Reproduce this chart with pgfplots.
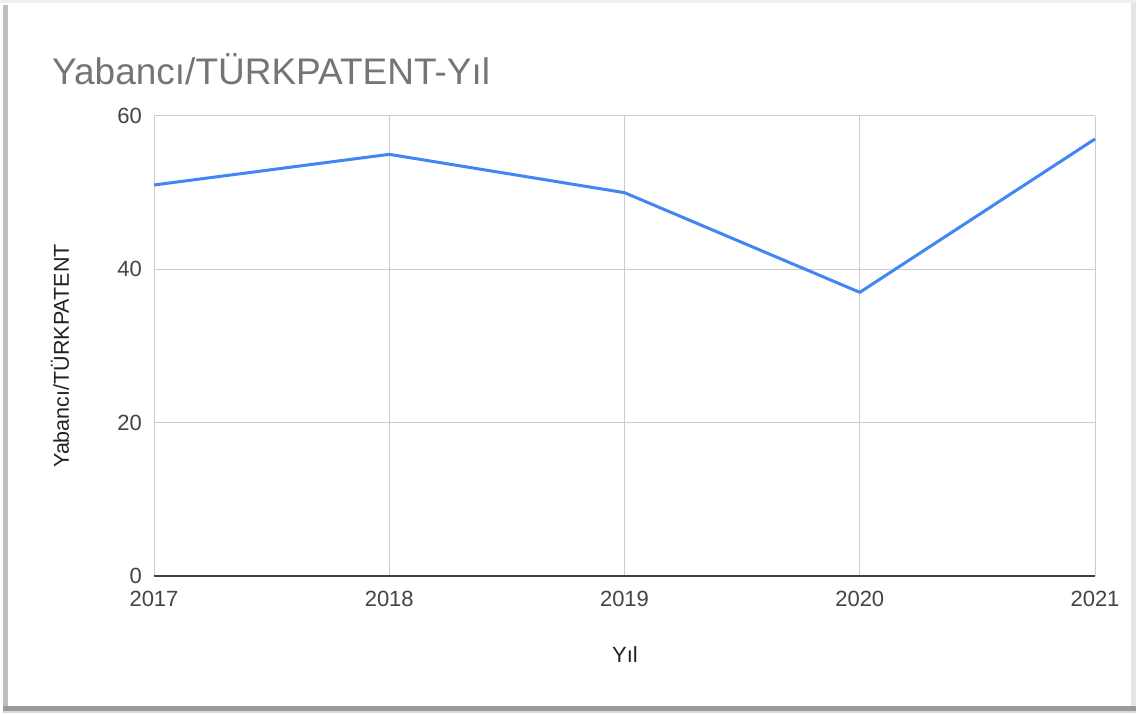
\documentclass[border=0pt]{standalone}
\usepackage{fontspec}
\setmainfont{Liberation Sans}
\usepackage{pgfplots}
\pgfplotsset{compat=1.18}

\definecolor{gblue}{HTML}{4285F4}
\definecolor{gridc}{HTML}{CCCCCC}
\definecolor{titlec}{HTML}{757575}
\definecolor{tickc}{HTML}{444444}
\definecolor{labc}{HTML}{222222}

\begin{document}
\begin{tikzpicture}[x=1pt,y=1pt]
  % card with shadow
  \fill[white] (0,0) rectangle (1136,713);
  \fill[black!6] (0,710) rectangle (1136,713);
  \fill[black!10] (1131,4) rectangle (1136,710);
  \fill[black!25] (3,3) rectangle (8,708);
  \fill[black!40] (3,2) rectangle (1136,7);
  \fill[black!15] (3,0) rectangle (1136,2);
  \fill[white] (8,7) rectangle (1131,710);

  \begin{axis}[
      at={(154pt,137pt)}, anchor=south west,
      scale only axis,
      width=941pt, height=460pt,
      xmin=2017, xmax=2021,
      ymin=0, ymax=60,
      xtick={2017,2018,2019,2020,2021},
      ytick={0,20,40,60},
      xticklabel={\pgfmathprintnumber[1000 sep={}]{\tick}},
      major tick length=0pt,
      grid=major,
      grid style={gridc, line width=1pt},
      axis line style={draw=none},
      tick label style={font=\fontsize{22}{26}\selectfont, text=tickc},
      xticklabel style={anchor=north, inner sep=0pt, yshift=-15pt},
      yticklabel style={anchor=east, inner sep=0pt, xshift=-12pt},
      /pgf/number format/assume math mode=true,
      clip=false,
    ]
    \draw[black!75, line width=1.5pt] (axis cs:2017,0) -- (axis cs:2021,0);
    \addplot[gblue, line width=3pt, line join=round] coordinates {
      (2017,51) (2018,55) (2019,50) (2020,37) (2021,57)
    };
  \end{axis}

  \node[anchor=base west, inner sep=0pt, text=titlec,
        font=\fontsize{37}{44}\selectfont] at (52,628) {Yabancı/TÜRKPATENT-Yıl};
  \node[rotate=90, inner sep=0pt, text=labc,
        font=\fontsize{21.5}{25}\selectfont] at (60,357) {Yabancı/TÜRKPATENT};
  \node[inner sep=0pt, text=labc,
        font=\fontsize{22}{26}\selectfont] at (625,58) {Yıl};
\end{tikzpicture}
\end{document}
